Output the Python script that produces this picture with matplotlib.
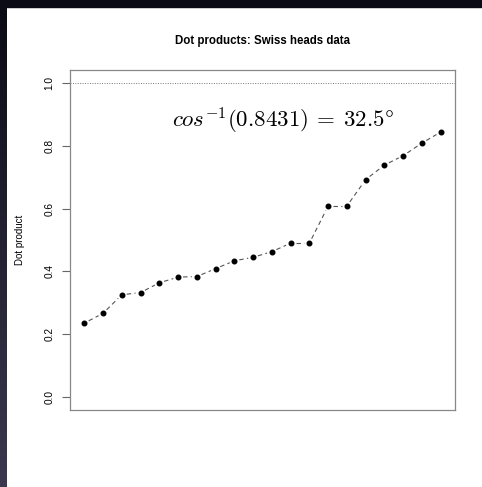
import numpy as np
import matplotlib.pyplot as plt
from matplotlib.patches import Rectangle

# Dot products for the Swiss heads data, sorted ascending
index = np.arange(1, 21)
dot_product = [0.236, 0.267, 0.326, 0.333, 0.364, 0.382, 0.384, 0.409,
               0.434, 0.445, 0.463, 0.490, 0.490, 0.608, 0.608, 0.692,
               0.738, 0.768, 0.808, 0.8431]
max_dot = 0.8431
angle_deg = 32.5

plt.rcParams['font.family'] = ['Liberation Sans', 'DejaVu Sans']
plt.rcParams['mathtext.fontset'] = 'cm'

W, H = 482, 487
fig = plt.figure(figsize=(W / 100, H / 100), dpi=100)

# dark frame on the top and left edges
fig.patches.append(Rectangle((0, 1 - 7 / H), 1, 7 / H, transform=fig.transFigure,
                             color='#0b0b16', zorder=0))
frame = fig.add_axes([0, 0, 7 / W, 1])
grad = np.linspace(0, 1, 256)[:, None]
top_c = np.array([0.04, 0.04, 0.08])
bot_c = np.array([0.23, 0.22, 0.31])
frame.imshow(top_c + grad[..., None] * (bot_c - top_c), aspect='auto')
frame.axis('off')

ax = fig.add_axes([70 / W, 1 - 410 / H, 385 / W, 340 / H])
ax.set_xlim(0.24, 20.76)
ax.set_ylim(-0.04, 1.04)

ax.axhline(1.0, color='#777777', lw=0.7, ls=(0, (1, 1.5)))

# type="b" style: each segment dashed on its own, stopping short of the points
pts = ax.transData.transform(np.column_stack([index, dot_product]))
gap = 5.0
for p0, p1 in zip(pts[:-1], pts[1:]):
    d = p1 - p0
    n = np.hypot(*d)
    if n <= 2 * gap:
        continue
    u = d / n
    seg = ax.transData.inverted().transform([p0 + u * gap, p1 - u * gap])
    ax.plot(seg[:, 0], seg[:, 1], color='#555555', lw=0.8, ls=(0, (4, 3)), zorder=2)
ax.plot(index, dot_product, 'o', color='black', ms=3.3, zorder=4)

ax.text(11.6, 0.88, r'$cos^{-1}(%.4f)\:=\:%.1f\degree$' % (max_dot, angle_deg),
        ha='center', va='center', fontsize=16.5)

ax.set_title('Dot products: Swiss heads data', fontsize=8.3, fontweight='bold', pad=19)
ax.set_ylabel('Dot product', fontsize=7, labelpad=14)
ax.set_xticks([])
ax.set_yticks([0.0, 0.2, 0.4, 0.6, 0.8, 1.0])
ax.set_yticklabels(['0.0', '0.2', '0.4', '0.6', '0.8', '1.0'], rotation=90, va='center')
ax.tick_params(axis='y', length=6, width=0.8, color='#666666', labelsize=7.3, pad=5)
for s in ax.spines.values():
    s.set_color('#888888')
    s.set_linewidth(0.9)

fig.savefig('out.png', dpi=100)
